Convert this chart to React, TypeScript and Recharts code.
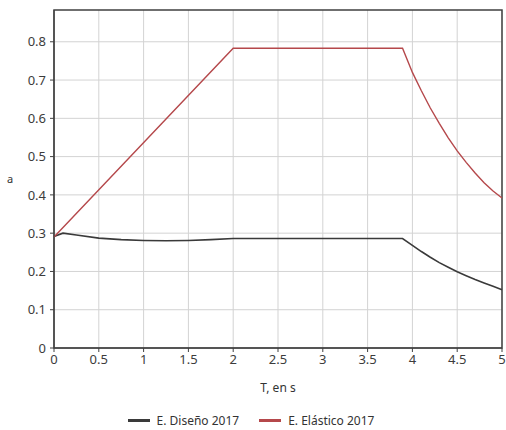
import React from 'react';
import { LineChart, Line, XAxis, YAxis, CartesianGrid, Legend, ReferenceArea } from 'recharts';

// periods (s) and spectral ordinates
const disenoT = [0, 0.1, 0.25, 0.5, 0.75, 1, 1.25, 1.5, 1.75, 2, 3.89, 4, 4.1, 4.2, 4.3, 4.4, 4.5, 4.6, 4.7, 4.8, 4.9, 5];
const disenoA = [0.291, 0.3, 0.295, 0.287, 0.283, 0.281, 0.28, 0.281, 0.283, 0.286, 0.286, 0.268, 0.252, 0.237, 0.223, 0.211, 0.199, 0.189, 0.179, 0.17, 0.161, 0.152];

const elasticoT = [0, 2, 3.89, 4, 4.1, 4.2, 4.3, 4.4, 4.5, 4.6, 4.7, 4.8, 4.9, 5];
const elasticoA = [0.29, 0.783, 0.783, 0.72, 0.672, 0.627, 0.587, 0.549, 0.515, 0.485, 0.457, 0.432, 0.41, 0.392];

const xTicks = [0, 0.5, 1, 1.5, 2, 2.5, 3, 3.5, 4, 4.5, 5];
const yTicks = [0, 0.1, 0.2, 0.3, 0.4, 0.5, 0.6, 0.7, 0.8];
const yMax = 0.883;

const seriesNames = ['E. Diseño 2017', 'E. Elástico 2017'];
const seriesColors = ['#3a3a3a', '#b5484b'];

const disenoData = disenoT.map((t, i) => ({ t, a: disenoA[i] }));
const elasticoData = elasticoT.map((t, i) => ({ t, a: elasticoA[i] }));

const FONT = '"Noto Sans", "Open Sans", sans-serif';

const LegendContent = () => (
  <div style={{ display: 'flex', justifyContent: 'center', alignItems: 'center', height: 20, fontFamily: FONT, fontSize: 12, color: '#333' }}>
    {seriesNames.map((name, i) => (
      <div key={name} style={{ display: 'flex', alignItems: 'center', marginLeft: i ? 20 : 0 }}>
        <div style={{ width: 22, height: 3, background: seriesColors[i], marginRight: 7 }} />
        <span>{name}</span>
      </div>
    ))}
  </div>
);

export default function App() {
  return (
    <div style={{ width: 506, height: 430, background: '#fff' }}>
      <style>{'body{margin:0}'}</style>
      <LineChart width={506} height={430} margin={{ top: 10, right: 4, left: 0, bottom: 0 }}>
        <CartesianGrid stroke="#d3d3d3" strokeWidth={1} horizontalValues={yTicks} verticalValues={xTicks} />
        <XAxis
          type="number"
          dataKey="t"
          domain={[0, 5]}
          ticks={xTicks}
          allowDuplicatedCategory={false}
          height={62}
          tickSize={4}
          tickMargin={3}
          stroke="#404040"
          tick={{ fontSize: 13, fill: '#3c3c3c', fontFamily: FONT }}
          label={{ value: 'T, en s', position: 'insideBottom', offset: 18, fontSize: 12, fill: '#333', fontFamily: FONT }}
        />
        <YAxis
          type="number"
          domain={[0, yMax]}
          ticks={yTicks}
          width={54}
          tickSize={4}
          tickMargin={4}
          stroke="#404040"
          tick={{ fontSize: 13, fill: '#3c3c3c', fontFamily: FONT }}
          label={{ value: 'a', position: 'insideLeft', offset: 7, fontSize: 11, fill: '#333', fontFamily: FONT }}
        />
        <ReferenceArea x1={0} x2={5} y1={0} y2={yMax} fill="none" stroke="#404040" strokeWidth={1.5} ifOverflow="visible" />
        <Line data={disenoData} dataKey="a" name={seriesNames[0]} type="linear" stroke={seriesColors[0]} strokeWidth={1.6} dot={false} isAnimationActive={false} />
        <Line data={elasticoData} dataKey="a" name={seriesNames[1]} type="linear" stroke={seriesColors[1]} strokeWidth={1.4} dot={false} isAnimationActive={false} />
        <Legend verticalAlign="bottom" content={<LegendContent />} />
      </LineChart>
    </div>
  );
}
